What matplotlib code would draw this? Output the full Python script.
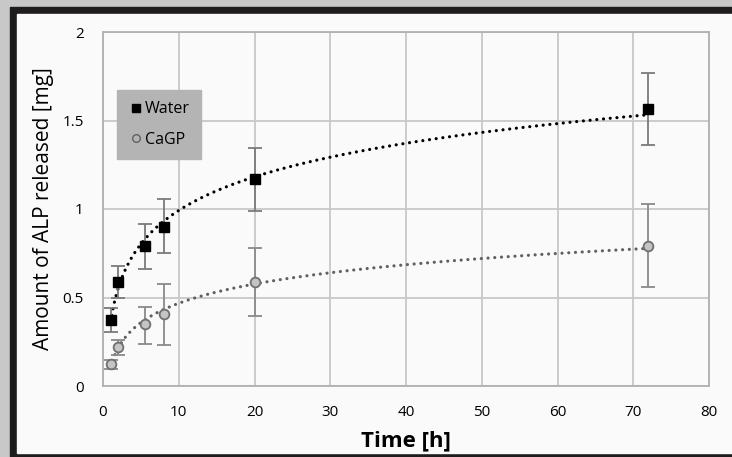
import numpy as np
import matplotlib.pyplot as plt
from matplotlib.patches import Rectangle
from matplotlib.lines import Line2D

plt.rcParams['font.family'] = ['Open Sans', 'DejaVu Sans']

# data
time_h = [1, 2, 5.5, 8, 20, 72]
water = [0.373, 0.588, 0.79, 0.90, 1.17, 1.565]
water_hi = [0.44, 0.68, 0.915, 1.055, 1.345, 1.77]
water_lo = [0.305, 0.50, 0.66, 0.75, 0.99, 1.36]
cagp = [0.124, 0.22, 0.35, 0.407, 0.588, 0.79]
cagp_hi = [0.147, 0.26, 0.447, 0.576, 0.78, 1.03]
cagp_lo = [0.096, 0.175, 0.237, 0.23, 0.395, 0.56]

W, H = 732, 457
fig = plt.figure(figsize=(W / 100, H / 100), dpi=100)
fig.patch.set_facecolor('#c8c8c8')

# black frame and white panel (pixel coords -> figure fractions)
def px_rect(x0, y0, x1, y1, color):
    fig.patches.append(Rectangle((x0 / W, 1 - y1 / H), (x1 - x0) / W, (y1 - y0) / H,
                                 transform=fig.transFigure, color=color, zorder=-10))

px_rect(10, 7, 760, 480, '#1e1c1c')
px_rect(17, 14, 760, 453, '#fafafa')

ax = fig.add_axes([103 / W, 71 / H, 606 / W, 354 / H])
ax.set_facecolor('#fafafa')

t = np.array(time_h)
xs = np.linspace(1, 72, 300)

# logarithmic trendlines, Excel style
for y, col in [(water, 'black'), (cagp, '#606060')]:
    a, b = np.polyfit(np.log(t), np.array(y), 1)
    ax.plot(xs, a * np.log(xs) + b, linestyle=(0, (0.01, 2.1)), color=col,
            linewidth=2.3, dash_capstyle='round', zorder=2)

w_err = [np.array(water) - np.array(water_lo), np.array(water_hi) - np.array(water)]
c_err = [np.array(cagp) - np.array(cagp_lo), np.array(cagp_hi) - np.array(cagp)]

ax.errorbar(time_h, water, yerr=w_err, fmt='none', ecolor='#7a7a7a', elinewidth=1.3,
            capsize=5, capthick=1.3, zorder=3)
ax.errorbar(time_h, cagp, yerr=c_err, fmt='none', ecolor='#8a8a8a', elinewidth=1.3,
            capsize=5, capthick=1.3, zorder=3)
ax.plot(time_h, water, linestyle='none', marker='s', markersize=7.5,
        color='black', zorder=4)
ax.plot(time_h, cagp, linestyle='none', marker='o', markersize=7,
        markerfacecolor='#c4c4c4', markeredgecolor='#707070', markeredgewidth=1.3, zorder=4)

ax.set_xlim(0, 80)
ax.set_ylim(0, 2)
ax.set_xticks(range(0, 81, 10))
ax.set_yticks([0, 0.5, 1, 1.5, 2])
ax.set_yticklabels(['0', '0.5', '1', '1.5', '2'])
ax.grid(True, color='#c8c8c8', linewidth=1.3)
ax.set_axisbelow(True)
for s in ax.spines.values():
    s.set_color('#b0b0b0')
    s.set_linewidth(1.3)
ax.tick_params(length=0, labelsize=11, colors='black', pad=14)

ax.set_xlabel('Time [h]', fontsize=16, fontweight='bold', labelpad=7)
ax.set_ylabel('Amount of ALP released [mg]', fontsize=15, labelpad=6)

handles = [Line2D([], [], linestyle='none', marker='s', markersize=6, color='black'),
           Line2D([], [], linestyle='none', marker='o', markersize=5.5,
                  markerfacecolor='none', markeredgecolor='#606060', markeredgewidth=1)]
leg = ax.legend(handles, ['Water', 'CaGP'], loc='upper left',
                bbox_to_anchor=((117 - 103) / 606, (386 - 90) / 354),
                frameon=True, fancybox=False, fontsize=11.5, handletextpad=0.05,
                handlelength=1.0, labelspacing=0.9, borderpad=0.7, borderaxespad=0)
leg.get_frame().set_facecolor('#b4b4b4')
leg.get_frame().set_edgecolor('#b4b4b4')
leg.get_frame().set_alpha(1)

fig.savefig('out.png', dpi=100, facecolor=fig.get_facecolor())
